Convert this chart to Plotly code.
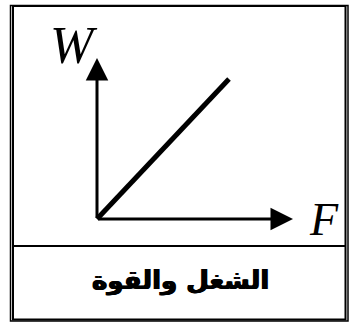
import plotly.graph_objects as go

# ---- data ----
force = [0, 1]          # F (arbitrary units)
work = [0, 1]           # W (arbitrary units)
x_label = "F"
y_label = "W"
title_text = "الشغل والقوة"
axis_extent_x = 1.485   # length of F arrow in data units
axis_extent_y = 1.15    # length of W arrow in data units

W_PX, H_PX = 355, 323

def px(x):
    return x / W_PX

def py(y):
    return 1 - y / H_PX

fig = go.Figure()

# the W-F straight line
fig.add_trace(go.Scatter(x=force, y=work, mode="lines",
                         line=dict(color="black", width=5),
                         hoverinfo="skip", showlegend=False))

# axis arrows
for tip in ((axis_extent_x, 0), (0, axis_extent_y)):
    fig.add_annotation(x=tip[0], y=tip[1], ax=0, ay=0, xref="x", yref="y",
                       axref="x", ayref="y", showarrow=True, arrowhead=2,
                       arrowsize=1.5, arrowwidth=3, arrowcolor="black", text="")

# axis labels
fig.add_annotation(x=1.72, y=-0.005, xref="x", yref="y", text="<i>" + x_label + "</i>",
                   showarrow=False,
                   font=dict(family="Liberation Serif", size=46, color="black"),
                   xanchor="center", yanchor="middle")
fig.add_annotation(x=-0.178, y=1.239, xref="x", yref="y", text="<i>" + y_label + "</i>",
                   showarrow=False,
                   font=dict(family="Liberation Serif", size=52, color="black"),
                   xanchor="center", yanchor="middle")

# title text
fig.add_annotation(x=px(180), y=py(280), xref="paper", yref="paper",
                   text="<b>" + title_text + "</b>", showarrow=False,
                   font=dict(family="DejaVu Sans", size=26, color="black",
                             shadow="0.7px 0 0 black, -0.7px 0 0 black"),
                   xanchor="center", yanchor="middle")

# frame
fig.add_shape(type="rect", xref="paper", yref="paper",
              x0=px(10.5), x1=px(348), y0=py(321), y1=py(5.5),
              line=dict(color="black", width=1.5))
fig.add_shape(type="rect", xref="paper", yref="paper",
              x0=px(13), x1=px(345.5), y0=py(319.5), y1=py(6),
              line=dict(color="black", width=2))
fig.add_shape(type="line", xref="paper", yref="paper",
              x0=px(13), x1=px(346), y0=py(246), y1=py(246),
              line=dict(color="black", width=2))

# axis mapping: origin at (97,219) px, 1 unit = 132 px horizontally, 140 px vertically
ox, oy, sx, sy = 97, 219, 132, 140
fig.update_xaxes(range=[-ox / sx, (W_PX - ox) / sx], visible=False, fixedrange=True)
fig.update_yaxes(range=[(oy - H_PX) / sy, oy / sy], visible=False, fixedrange=True)

fig.update_layout(width=W_PX, height=H_PX,
                  margin=dict(l=0, r=0, t=0, b=0),
                  paper_bgcolor="white", plot_bgcolor="white",
                  showlegend=False)

fig.write_html("out.html", config={"displayModeBar": False},
               post_script="document.body.style.margin='0';document.body.style.overflow='hidden';")
